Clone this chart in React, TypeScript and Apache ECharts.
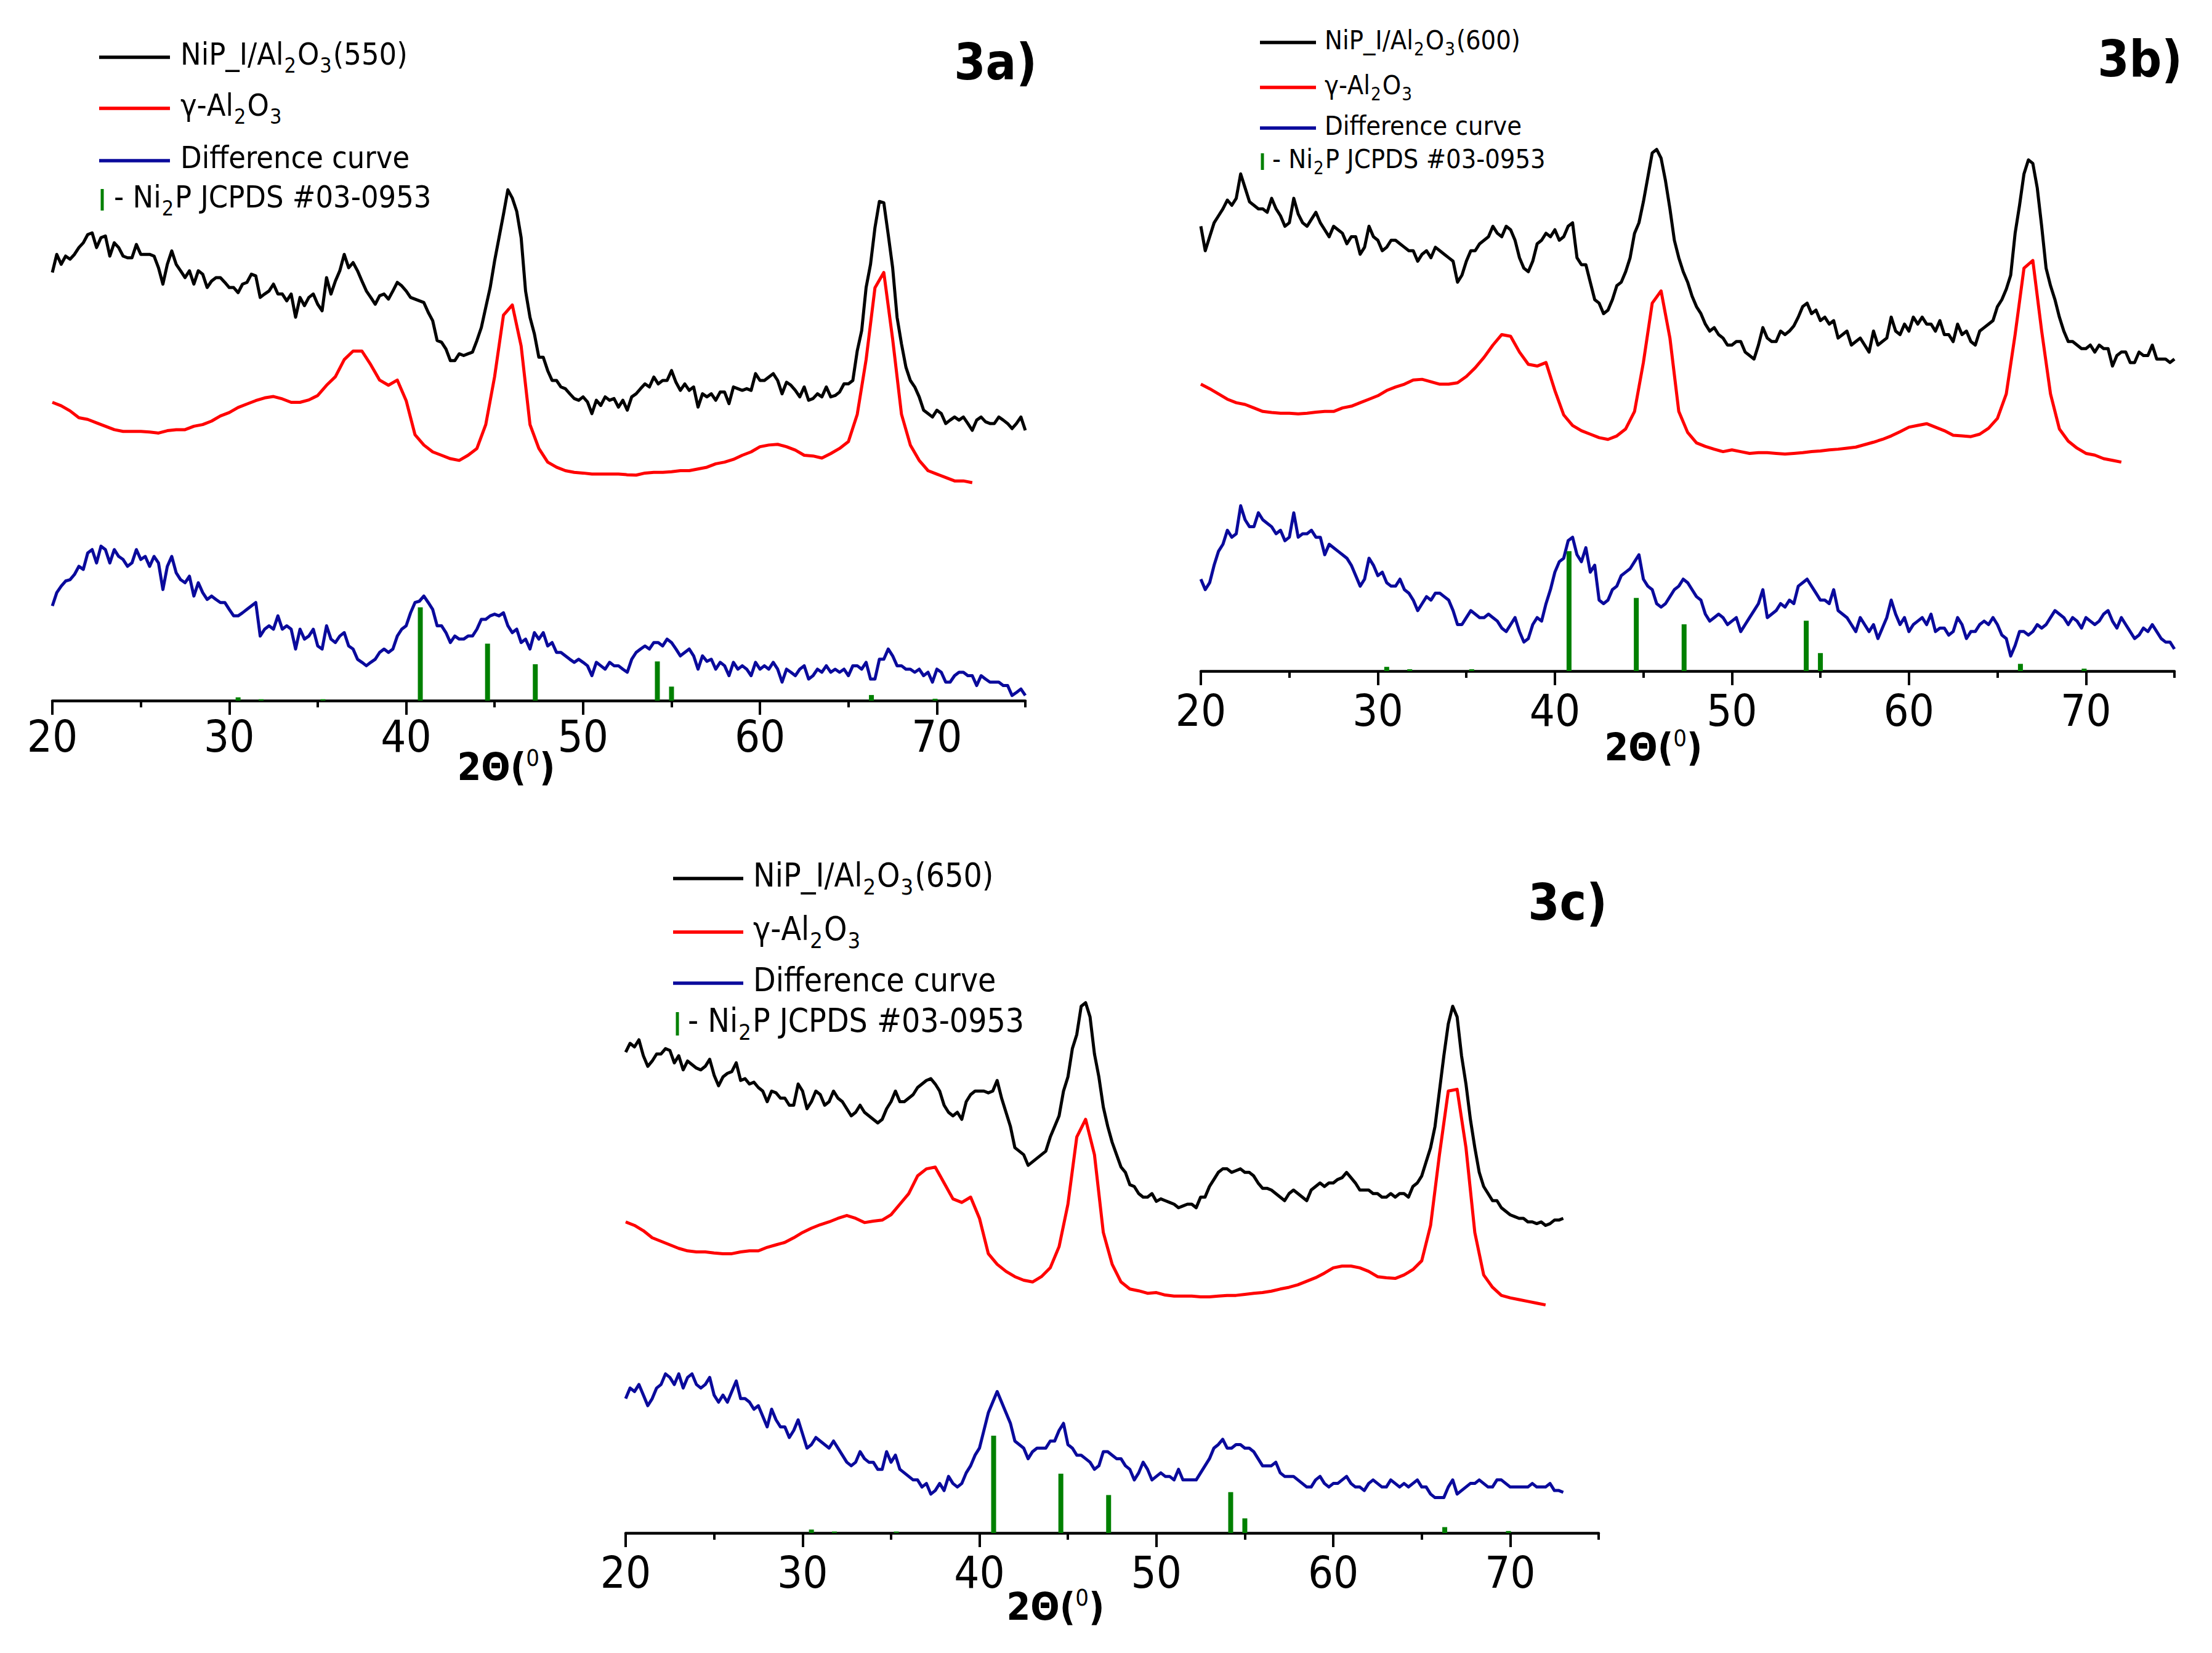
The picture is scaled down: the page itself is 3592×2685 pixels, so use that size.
import React, { useEffect, useRef } from 'react';
import * as echarts from 'echarts';

const FONT =
  "'Liberation Sans Narrow', 'Arial Narrow', 'DejaVu Sans Condensed', 'Liberation Sans', Arial, sans-serif";

// 2θ sampling: all curves start at 20°, noisy ones read every 0.25°, smooth ones every 0.5°
const START = 20;
const FINE = 0.25;
const COARSE = 0.5;

// ---- 3a) NiP_I/Al2O3(550) ----
const black550 = [
  125.3, 130.6, 127.7, 130.1, 129.2, 130.6, 132.6, 134.0, 136.4, 136.9,
  132.6, 135.5, 136.0, 130.1, 134.0, 132.6, 130.1, 129.6, 129.6, 133.5,
  130.6, 130.6, 130.6, 130.1, 126.7, 121.9, 127.7, 131.6, 127.7, 125.8,
  123.8, 125.8, 121.9, 125.8, 124.8, 120.9, 122.8, 123.8, 123.8, 122.4,
  120.9, 120.9, 119.4, 121.9, 122.4, 124.8, 124.3, 118.0, 119.0, 119.9,
  121.9, 119.0, 119.0, 117.0, 119.0, 112.2, 118.0, 115.6, 118.0, 119.0,
  116.0, 114.1, 123.8, 119.0, 122.8, 125.8, 130.6, 126.7, 128.2, 125.8,
  122.8, 119.9, 118.0, 116.0, 118.5, 119.0, 117.5, 119.9, 122.4, 121.4,
  119.9, 118.0, 117.5, 117.0, 116.5, 113.6, 111.2, 105.4, 104.9, 102.9,
  99.5, 99.5, 101.5, 101.0, 101.5, 102.0, 105.4, 109.2, 115.1, 120.9,
  128.7, 135.5, 142.3, 149.5, 147.1, 143.2, 135.5, 119.9, 112.2, 107.3,
  100.5, 100.5, 96.6, 93.7, 93.7, 91.8, 91.3, 89.8, 88.4, 87.9,
  88.9, 87.4, 84.0, 87.9, 86.4, 88.9, 87.9, 88.4, 85.9, 87.9,
  85.0, 88.9, 89.8, 91.3, 92.7, 91.8, 94.7, 92.7, 93.7, 93.7,
  96.6, 93.2, 90.8, 92.7, 90.8, 91.8, 85.9, 89.8, 88.9, 89.8,
  87.9, 90.3, 90.3, 86.9, 91.8, 91.3, 90.8, 91.3, 90.8, 95.7,
  93.7, 93.7, 94.7, 95.7, 93.7, 89.8, 93.2, 92.3, 90.8, 88.9,
  91.8, 87.9, 88.4, 89.8, 88.9, 91.8, 88.9, 89.3, 90.3, 92.7,
  92.7, 93.7, 102.4, 108.3, 120.9, 127.7, 138.4, 146.1, 145.7, 136.4,
  126.7, 112.2, 104.4, 97.6, 93.7, 91.8, 88.9, 85.0, 84.0, 83.0,
  85.0, 84.0, 81.1, 82.1, 83.0, 82.1, 83.0, 81.1, 79.1, 82.1,
  83.0, 81.6, 81.1, 81.1, 83.0, 82.1, 81.1, 79.6, 81.1, 83.0,
  79.1,
];
const red550 = [
  87.3, 86.3, 84.8, 82.8, 82.3, 81.3, 80.3, 79.3, 78.8, 78.8,
  78.8, 78.6, 78.3, 79.0, 79.3, 79.3, 80.3, 80.8, 81.8, 83.3,
  84.3, 85.8, 86.8, 87.8, 88.6, 89.0, 88.3, 87.3, 87.3, 88.0,
  89.3, 92.3, 94.8, 99.8, 102.3, 102.3, 98.3, 93.8, 92.3, 93.8,
  87.8, 77.8, 74.8, 72.8, 71.8, 70.8, 70.3, 71.8, 73.8, 80.8,
  94.8, 112.8, 115.8, 103.8, 80.8, 73.8, 69.8, 68.3, 67.3, 66.8,
  66.6, 66.3, 66.3, 66.3, 66.3, 66.1, 66.0, 66.6, 66.8, 66.8,
  67.0, 67.3, 67.3, 67.8, 68.3, 69.3, 69.8, 70.6, 71.8, 72.8,
  74.3, 74.8, 75.0, 74.3, 73.3, 71.8, 71.6, 71.0, 72.3, 73.8,
  75.8, 83.8, 99.8, 120.8, 125.3, 105.8, 83.8, 74.8, 70.3, 67.3,
  66.3, 65.3, 64.3, 64.3, 63.8,
];
const blue550 = [
  27.7, 31.6, 33.5, 35.0, 35.4, 36.9, 39.3, 38.4, 43.2, 44.2,
  40.3, 45.2, 44.2, 40.3, 44.2, 42.2, 41.3, 39.3, 40.3, 44.2,
  41.3, 42.2, 39.3, 42.2, 40.3, 32.5, 39.3, 42.2, 37.4, 35.4,
  34.5, 36.4, 30.6, 34.5, 31.6, 29.6, 30.6, 29.6, 28.7, 28.7,
  26.7, 24.8, 24.8, 25.7, 26.7, 27.7, 28.7, 18.9, 20.9, 21.9,
  20.9, 24.8, 20.9, 21.9, 20.9, 15.1, 20.9, 18.0, 18.9, 20.9,
  16.0, 15.1, 21.9, 18.0, 17.0, 18.9, 19.9, 16.0, 15.1, 12.1,
  11.2, 10.2, 11.2, 12.1, 14.1, 15.1, 14.1, 15.1, 18.9, 20.9,
  21.9, 25.7, 28.7, 29.1, 30.6, 28.7, 26.7, 21.9, 21.9, 19.9,
  17.0, 18.9, 18.0, 18.0, 18.9, 18.9, 20.9, 23.8, 23.8, 24.8,
  25.3, 24.8, 25.7, 21.9, 19.9, 20.9, 17.0, 18.0, 15.1, 19.9,
  18.0, 19.9, 16.0, 17.0, 14.1, 14.1, 13.1, 12.1, 11.2, 12.1,
  11.2, 10.2, 7.3, 11.2, 10.2, 9.2, 11.2, 10.2, 10.2, 9.2,
  8.3, 12.1, 14.1, 15.1, 16.0, 15.1, 17.0, 17.0, 16.0, 18.0,
  17.0, 15.1, 13.1, 14.1, 15.1, 13.1, 9.2, 13.1, 11.5, 12.1,
  9.2, 11.2, 10.2, 7.3, 11.2, 9.2, 10.2, 9.2, 7.3, 11.2,
  9.2, 10.2, 9.2, 11.2, 9.2, 5.4, 9.2, 8.3, 7.3, 9.2,
  10.2, 6.3, 7.3, 9.2, 8.3, 10.2, 8.3, 9.2, 8.3, 9.2,
  7.3, 10.2, 10.2, 9.2, 11.2, 6.3, 6.3, 12.1, 12.1, 15.1,
  13.1, 10.2, 10.2, 9.2, 9.2, 8.3, 9.2, 7.3, 8.3, 5.4,
  9.2, 8.3, 5.4, 5.4, 7.3, 8.3, 8.3, 7.3, 7.3, 4.4,
  7.3, 6.3, 5.4, 5.4, 5.4, 4.4, 4.4, 1.5, 2.4, 3.4,
  1.5,
];

// ---- 3b) NiP_I/Al2O3(600) ----
const black600 = [
  127.3, 120.3, 124.3, 128.3, 130.3, 132.3, 134.8, 133.3, 135.3, 142.3,
  138.3, 134.3, 133.3, 132.3, 132.3, 131.3, 135.3, 132.3, 130.3, 127.3,
  128.3, 135.3, 130.8, 128.3, 127.3, 129.3, 131.3, 128.3, 126.3, 124.3,
  127.3, 126.3, 125.3, 122.3, 124.3, 124.3, 119.3, 121.3, 127.3, 124.3,
  123.3, 120.3, 121.3, 123.3, 123.3, 122.3, 121.3, 120.3, 120.3, 117.3,
  119.3, 120.3, 118.3, 121.3, 120.3, 119.3, 118.3, 117.3, 111.3, 113.3,
  117.3, 120.3, 120.3, 122.3, 123.3, 124.3, 127.3, 125.3, 124.3, 127.3,
  126.3, 123.3, 118.3, 115.3, 114.3, 117.3, 122.3, 123.3, 125.3, 124.3,
  126.3, 123.3, 124.3, 127.3, 128.3, 118.3, 116.3, 116.3, 111.3, 106.3,
  105.3, 102.3, 103.3, 106.3, 110.3, 111.3, 114.3, 118.3, 125.3, 128.3,
  134.3, 141.3, 148.3, 149.3, 146.8, 140.3, 132.3, 123.3, 118.3, 114.3,
  111.3, 107.3, 104.3, 102.3, 99.3, 97.3, 98.3, 96.3, 95.3, 93.3,
  93.3, 94.3, 94.3, 91.3, 90.3, 89.3, 93.3, 98.3, 95.3, 94.3,
  94.3, 97.3, 96.3, 97.3, 98.8, 101.3, 104.3, 105.3, 102.3, 103.3,
  100.3, 101.3, 99.3, 100.3, 95.3, 96.3, 97.3, 93.3, 94.3, 95.3,
  93.3, 91.3, 97.3, 93.3, 94.3, 95.3, 101.3, 97.3, 96.3, 99.3,
  97.3, 101.3, 99.3, 101.3, 99.3, 99.3, 97.3, 100.3, 96.3, 96.3,
  94.3, 99.3, 96.3, 97.3, 94.3, 93.3, 97.3, 98.3, 99.3, 100.3,
  104.3, 106.3, 109.3, 113.3, 125.3, 133.3, 142.3, 146.3, 145.3, 138.3,
  127.3, 115.3, 110.3, 106.3, 101.3, 97.3, 94.3, 94.3, 93.3, 92.3,
  92.3, 93.3, 91.3, 93.3, 92.3, 92.3, 87.3, 90.3, 91.3, 91.3,
  88.3, 88.3, 91.3, 90.3, 90.3, 93.3, 89.3, 89.3, 89.3, 88.3,
  89.3,
];
const red600 = [
  82.1, 80.8, 79.3, 77.8, 76.8, 76.3, 75.3, 74.3, 74.0, 73.8,
  73.8, 73.6, 73.8, 74.1, 74.3, 74.3, 75.3, 75.8, 76.8, 77.8,
  78.8, 80.3, 81.3, 82.1, 83.3, 83.5, 82.8, 82.1, 82.1, 82.5,
  84.3, 86.8, 89.8, 93.3, 96.3, 95.8, 91.3, 87.8, 87.3, 88.3,
  80.3, 73.3, 70.3, 68.8, 67.8, 66.8, 66.3, 67.3, 69.3, 74.3,
  88.3, 105.3, 108.8, 95.3, 74.3, 68.3, 65.3, 64.3, 63.5, 62.8,
  63.3, 62.8, 62.3, 62.5, 62.5, 62.3, 62.1, 62.3, 62.5, 62.8,
  63.0, 63.3, 63.5, 63.8, 64.1, 64.8, 65.5, 66.3, 67.3, 68.5,
  69.8, 70.3, 70.8, 69.8, 68.8, 67.5, 67.3, 67.1, 67.8, 69.5,
  72.3, 79.3, 96.3, 115.3, 117.5, 97.3, 79.3, 69.3, 65.8, 63.8,
  62.3, 61.8, 60.8, 60.3, 59.8,
];
const blue600 = [
  26.3, 23.3, 25.3, 30.3, 34.3, 36.3, 40.3, 38.3, 39.3, 47.3,
  43.3, 41.3, 41.3, 45.3, 43.3, 42.3, 41.3, 39.3, 40.3, 37.3,
  38.3, 45.3, 38.3, 39.3, 39.3, 40.3, 38.3, 38.3, 33.3, 36.3,
  35.3, 34.3, 33.3, 32.3, 30.3, 27.3, 24.3, 26.3, 32.3, 30.3,
  27.3, 28.3, 25.3, 24.3, 24.3, 26.3, 23.3, 22.3, 20.3, 17.3,
  19.3, 21.3, 20.3, 22.3, 22.3, 21.3, 20.3, 17.3, 13.3, 13.3,
  15.3, 17.3, 16.3, 15.3, 15.3, 16.3, 15.3, 14.3, 12.3, 11.3,
  13.3, 15.3, 11.3, 8.3, 9.3, 13.3, 15.3, 14.3, 19.3, 23.3,
  28.3, 31.3, 32.3, 37.3, 38.3, 33.3, 31.3, 35.3, 28.3, 30.3,
  20.3, 19.3, 20.3, 23.3, 24.3, 27.3, 28.3, 29.3, 31.3, 33.3,
  26.3, 24.3, 23.3, 19.3, 18.3, 19.3, 21.3, 23.3, 24.3, 26.3,
  25.3, 23.3, 21.3, 20.3, 16.3, 14.3, 15.3, 16.3, 15.3, 13.3,
  14.3, 15.3, 11.3, 13.3, 15.3, 17.3, 19.3, 23.3, 15.3, 16.3,
  17.3, 19.3, 18.3, 20.3, 19.3, 24.3, 25.3, 26.3, 24.3, 22.3,
  20.3, 20.3, 19.3, 23.3, 17.3, 16.3, 15.3, 13.3, 11.3, 15.3,
  13.3, 11.3, 13.3, 9.3, 12.3, 15.3, 20.3, 16.3, 13.3, 15.3,
  11.3, 13.3, 14.3, 15.3, 13.3, 16.3, 11.3, 12.3, 12.3, 10.3,
  11.3, 15.3, 13.3, 9.3, 11.3, 11.3, 13.3, 14.3, 13.3, 15.3,
  13.3, 10.3, 9.3, 4.3, 7.3, 11.3, 11.3, 10.3, 11.3, 13.3,
  12.3, 13.3, 15.3, 17.3, 16.3, 15.3, 13.3, 15.3, 14.3, 12.3,
  15.3, 14.3, 13.3, 14.3, 16.3, 17.3, 14.3, 12.3, 15.3, 13.3,
  11.3, 9.3, 10.3, 12.3, 11.3, 13.3, 11.3, 9.3, 8.3, 8.3,
  6.3,
];

// ---- 3c) NiP_I/Al2O3(650) ----
const black650 = [
  136.0, 138.5, 137.5, 139.5, 135.0, 132.0, 133.5, 135.5, 135.5, 137.0,
  136.5, 133.0, 135.0, 131.0, 133.5, 132.5, 131.5, 131.0, 132.0, 134.0,
  129.5, 126.5, 129.0, 130.0, 130.5, 133.0, 128.0, 128.5, 127.0, 127.5,
  126.0, 125.0, 122.0, 125.0, 124.5, 123.0, 123.0, 121.0, 121.0, 127.0,
  125.0, 120.0, 122.0, 125.0, 124.0, 121.0, 122.0, 125.0, 123.0, 122.0,
  120.0, 118.0, 119.0, 121.0, 119.0, 118.0, 117.0, 116.0, 117.0, 120.0,
  122.0, 125.0, 122.0, 122.0, 123.0, 124.0, 126.0, 127.0, 128.0, 128.5,
  127.0, 125.0, 121.0, 119.0, 118.0, 119.0, 117.0, 122.0, 124.0, 125.0,
  125.0, 125.0, 124.5, 125.0, 128.0, 123.0, 119.0, 115.0, 109.0, 108.0,
  107.0, 104.0, 105.0, 106.0, 107.0, 108.0, 112.0, 115.0, 118.0, 125.0,
  129.0, 137.0, 141.0, 149.0, 150.0, 146.0, 135.5, 129.0, 120.5, 115.0,
  110.5, 107.0, 103.5, 102.0, 98.5, 98.0, 96.0, 95.0, 95.0, 96.0,
  93.8, 94.5, 94.0, 93.5, 93.0, 92.0, 92.5, 93.0, 93.0, 92.0,
  95.0, 95.0, 98.0, 100.0, 102.0, 103.0, 103.0, 102.0, 102.5, 103.0,
  102.0, 102.0, 101.0, 99.0, 97.5, 97.5, 97.0, 96.0, 95.0, 94.0,
  96.0, 97.0, 96.0, 95.0, 94.0, 97.0, 98.0, 99.0, 98.0, 99.0,
  99.0, 100.0, 100.5, 102.0, 100.5, 99.0, 97.0, 97.0, 97.0, 96.0,
  96.0, 95.0, 95.0, 96.0, 95.0, 96.0, 96.0, 95.0, 98.0, 99.0,
  101.0, 105.0, 109.0, 115.0, 125.0, 135.0, 144.0, 149.0, 146.0, 135.0,
  127.0, 117.0, 109.0, 102.0, 98.0, 96.0, 94.0, 94.0, 92.0, 91.0,
  90.0, 89.5, 89.0, 89.0, 88.0, 88.0, 87.5, 88.0, 87.0, 87.5,
  88.5, 88.5, 89.0,
];
const red650 = [
  88.0, 87.0, 85.5, 83.5, 82.5, 81.5, 80.5, 79.8, 79.5, 79.5,
  79.2, 79.0, 79.0, 79.5, 79.8, 79.8, 80.8, 81.5, 82.2, 83.5,
  85.0, 86.2, 87.2, 88.0, 89.0, 89.8, 89.0, 87.8, 88.2, 88.5,
  90.0, 93.0, 96.0, 101.0, 103.0, 103.5, 99.0, 94.5, 93.5, 95.0,
  89.0, 79.0, 76.0, 74.0, 72.5, 71.5, 71.0, 72.5, 75.0, 81.0,
  93.0, 112.0, 117.0, 107.0, 85.0, 76.0, 71.0, 69.0, 68.5, 67.8,
  68.0, 67.3, 67.0, 67.0, 67.0, 66.8, 66.8, 67.0, 67.2, 67.2,
  67.5, 67.8, 68.0, 68.4, 69.0, 69.5, 70.2, 71.2, 72.2, 73.5,
  75.0, 75.5, 75.5, 75.0, 74.0, 72.5, 72.2, 72.0, 73.0, 74.5,
  77.0, 87.0, 107.0, 125.0, 125.5, 109.0, 85.0, 73.0, 69.5, 67.2,
  66.5, 66.0, 65.5, 65.0, 64.5,
];
const blue650 = [
  38.0, 41.0, 40.0, 42.0, 39.0, 36.0, 38.0, 41.0, 42.0, 45.0,
  44.0, 42.0, 45.0, 41.0, 44.0, 45.0, 42.0, 41.0, 42.0, 44.0,
  39.0, 37.0, 39.0, 37.0, 40.0, 43.0, 38.0, 38.0, 37.0, 35.0,
  36.0, 33.0, 30.0, 35.0, 32.0, 30.0, 30.0, 27.0, 29.0, 32.0,
  28.0, 24.0, 25.0, 27.0, 26.0, 25.0, 24.0, 26.0, 24.0, 22.0,
  20.0, 19.0, 20.0, 23.0, 21.0, 20.0, 20.0, 18.0, 18.0, 23.0,
  20.0, 22.0, 18.0, 17.0, 16.0, 15.0, 15.0, 13.0, 14.0, 11.0,
  12.0, 14.0, 12.0, 16.0, 14.0, 13.0, 14.0, 17.0, 19.0, 22.0,
  24.0, 29.0, 34.0, 37.0, 40.0, 37.0, 34.0, 31.0, 26.0, 25.0,
  24.0, 21.0, 23.0, 24.0, 24.0, 24.0, 26.0, 26.0, 29.0, 31.0,
  25.0, 24.0, 22.0, 22.0, 21.0, 20.0, 18.0, 19.0, 23.0, 23.0,
  22.0, 21.0, 21.0, 19.0, 18.0, 15.0, 17.0, 20.0, 18.0, 15.0,
  16.0, 17.0, 16.0, 16.0, 15.0, 18.0, 15.0, 15.0, 15.0, 15.0,
  17.0, 19.0, 21.0, 24.0, 25.0, 26.5, 24.0, 24.0, 25.0, 25.0,
  24.0, 24.0, 23.0, 21.0, 19.0, 19.0, 19.0, 20.0, 17.0, 16.0,
  16.0, 16.0, 15.0, 14.0, 13.0, 13.0, 15.0, 16.0, 14.0, 13.0,
  14.0, 14.0, 15.0, 16.0, 14.0, 13.0, 13.0, 12.0, 14.0, 15.0,
  14.0, 13.0, 13.0, 15.0, 14.0, 13.0, 14.0, 13.0, 14.0, 15.0,
  13.0, 13.0, 11.0, 10.0, 10.0, 10.0, 13.0, 15.0, 11.0, 12.0,
  13.0, 14.0, 14.0, 15.0, 14.0, 13.0, 13.0, 15.0, 15.0, 14.0,
  13.0, 13.0, 13.0, 13.0, 13.0, 14.0, 13.0, 13.0, 13.0, 14.0,
  12.0, 12.0, 11.5,
];

// Ni2P JCPDS #03-0953 reference lines (2θ, relative intensity %)
const stickPos = [30.5, 31.8, 35.3, 40.8, 44.6, 47.3, 54.2, 55.0, 66.3, 69.9];
const stickRel = [3.5, 1.5, 1.5, 100, 61, 39, 42, 15, 6, 2];

const majorTicks = [20, 30, 40, 50, 60, 70];
const minorTicks = [25, 35, 45, 55, 65, 75];

const samples = ['550', '600', '650'];
const tags = ['3a)', '3b)', '3c)'];
const curves = [
  [
    { values: black550, step: FINE },
    { values: red550, step: COARSE },
    { values: blue550, step: FINE },
  ],
  [
    { values: black600, step: FINE },
    { values: red600, step: COARSE },
    { values: blue600, step: FINE },
  ],
  [
    { values: black650, step: FINE },
    { values: red650, step: COARSE },
    { values: blue650, step: FINE },
  ],
];
const stickScale = [27.3, 34.3, 27.5];

const COLORS = { black: '#000000', red: '#ff0000', blue: '#0a0a9c', green: '#008000' };

// page layout of the three panels (px)
const layout = [
  {
    left: 85, top: 290, width: 1580, height: 848, yMax: 152.8, labelMargin: 22,
    lineX: 161, lineEnd: 276, textX: 293, rows: [93, 176, 261, 325], font: 50,
    tickX: 166, tickY: [307, 342], jcpdsX: 185, tagX: 1684, tagY: 100, nameX: 822, nameY: 1244,
  },
  {
    left: 1950, top: 220, width: 1581, height: 870, yMax: 153.3, labelMargin: 28,
    lineX: 2046, lineEnd: 2137, textX: 2151, rows: [69, 142, 208, 262], font: 43,
    tickX: 2050, tickY: [249, 276], jcpdsX: 2066, tagX: 3544, tagY: 95, nameX: 2685, nameY: 1212,
  },
  {
    left: 1016, top: 1600, width: 1580, height: 890, yMax: 155.0, labelMargin: 28,
    lineX: 1093, lineEnd: 1207, textX: 1223, rows: [1427, 1514, 1597, 1663], font: 53,
    tickX: 1100, tickY: [1644, 1682], jcpdsX: 1117, tagX: 2610, tagY: 1465, nameX: 1714, nameY: 2608,
  },
];

const toPairs = (vals: number[], step: number) => vals.map((v, i) => [START + i * step, v]);

// normal text centred in a 1.2f box, subscripts pushed down by half a font size
const richFor = (f: number) => ({
  n: { fontSize: f, fontFamily: FONT, lineHeight: f * 1.2, verticalAlign: 'top', fill: '#000' },
  s: {
    fontSize: f * 0.68, fontFamily: FONT, lineHeight: f * 0.2, verticalAlign: 'bottom',
    fill: '#000', padding: [0, 2, 0, 1],
  },
});

const textEl = (x: number, y: number, text: string, rich: any, align = 'left') => ({
  type: 'text',
  x,
  y,
  style: {
    text,
    rich,
    fill: '#000',
    align,
    textAlign: align,
    verticalAlign: 'middle',
    textVerticalAlign: 'middle',
  },
});

function buildOption() {
  const grids: any[] = [];
  const xAxes: any[] = [];
  const yAxes: any[] = [];
  const series: any[] = [];
  const elements: any[] = [];

  layout.forEach((l, i) => {
    const rect = { left: l.left, top: l.top, width: l.width, height: l.height };
    grids[i] = rect;
    grids[i + 3] = rect;

    xAxes[i] = {
      type: 'value', gridIndex: i, min: 20, max: 75, position: 'bottom',
      axisLine: { show: true, lineStyle: { color: '#000', width: 4.5 } },
      axisTick: { show: true, customValues: majorTicks, length: 23, lineStyle: { color: '#000', width: 4 } },
      axisLabel: { customValues: majorTicks, margin: l.labelMargin, fontSize: 72, fontFamily: FONT, color: '#000' },
      splitLine: { show: false },
    };
    xAxes[i + 3] = {
      type: 'value', gridIndex: i + 3, min: 20, max: 75, position: 'bottom',
      axisLine: { show: false },
      axisTick: { show: true, customValues: minorTicks, length: 11, lineStyle: { color: '#000', width: 4 } },
      axisLabel: { show: false },
      splitLine: { show: false },
    };
    yAxes[i] = { type: 'value', gridIndex: i, min: 0, max: l.yMax, show: false };
    yAxes[i + 3] = { type: 'value', gridIndex: i + 3, min: 0, max: l.yMax, show: false };

    const [bk, rd, bl] = curves[i];
    const lineSeries = (name: string, c: { values: number[]; step: number }, color: string) => ({
      name, type: 'line', xAxisIndex: i, yAxisIndex: i, data: toPairs(c.values, c.step),
      showSymbol: false, symbol: 'none', z: 2,
      lineStyle: { color, width: 5, join: 'round' }, itemStyle: { color },
    });
    series.push(lineSeries(`NiP_I/Al2O3(${samples[i]})`, bk, COLORS.black));
    series.push(lineSeries('γ-Al2O3', rd, COLORS.red));
    series.push(lineSeries('Difference curve', bl, COLORS.blue));
    series.push({
      name: 'Ni2P JCPDS #03-0953', type: 'bar', xAxisIndex: i, yAxisIndex: i, barWidth: 8, z: 3,
      itemStyle: { color: COLORS.green },
      data: stickPos.map((p, k) => [p, (stickRel[k] * stickScale[i]) / 100]),
    });

    // legend
    const rich = richFor(l.font);
    const legendLines = [COLORS.black, COLORS.red, COLORS.blue];
    legendLines.forEach((c, k) => {
      elements.push({
        type: 'line',
        shape: { x1: l.lineX, y1: l.rows[k], x2: l.lineEnd, y2: l.rows[k] },
        style: { stroke: c, lineWidth: 5.5 },
      });
    });
    elements.push(textEl(l.textX, l.rows[0], `{n|NiP_I/Al}{s|2}{n|O}{s|3}{n|(${samples[i]})}`, rich));
    elements.push(textEl(l.textX, l.rows[1], '{n|γ-Al}{s|2}{n|O}{s|3}', rich));
    elements.push(textEl(l.textX, l.rows[2], '{n|Difference curve}', rich));
    elements.push({
      type: 'rect',
      shape: { x: l.tickX - 2.5, y: l.tickY[0], width: 5, height: l.tickY[1] - l.tickY[0] },
      style: { fill: COLORS.green },
    });
    elements.push(textEl(l.jcpdsX, l.rows[3], '{n|- Ni}{s|2}{n|P JCPDS #03-0953}', rich));

    // panel tag
    elements.push({
      type: 'text', x: l.tagX, y: l.tagY,
      style: {
        text: tags[i], fontSize: 82, fontWeight: 'bold', fontFamily: FONT, fill: '#000',
        align: 'right', textAlign: 'right', verticalAlign: 'middle', textVerticalAlign: 'middle',
      },
    });

    // axis name 2Θ(°)
    elements.push(
      textEl(l.nameX, l.nameY, '{t|2Θ(}{u|0}{t|)}', {
        t: { fontSize: 62, fontWeight: 'bold', fontFamily: FONT, lineHeight: 64, verticalAlign: 'bottom', fill: '#000' },
        u: { fontSize: 38, fontFamily: FONT, lineHeight: 24, verticalAlign: 'top', fill: '#000' },
      }, 'center'),
    );
  });

  return {
    animation: false,
    backgroundColor: '#ffffff',
    grid: grids,
    xAxis: xAxes,
    yAxis: yAxes,
    series,
    graphic: { elements },
  };
}

export default function App() {
  const chartRef = useRef<HTMLDivElement>(null);

  useEffect(() => {
    if (!chartRef.current) return;
    const chart = echarts.init(chartRef.current, null, { renderer: 'svg' });
    chart.setOption(buildOption() as any);
    return () => {
      chart.dispose();
    };
  }, []);

  return (
    <div
      ref={chartRef}
      style={{ position: 'absolute', left: 0, top: 0, width: 3592, height: 2685, background: '#fff' }}
    />
  );
}
